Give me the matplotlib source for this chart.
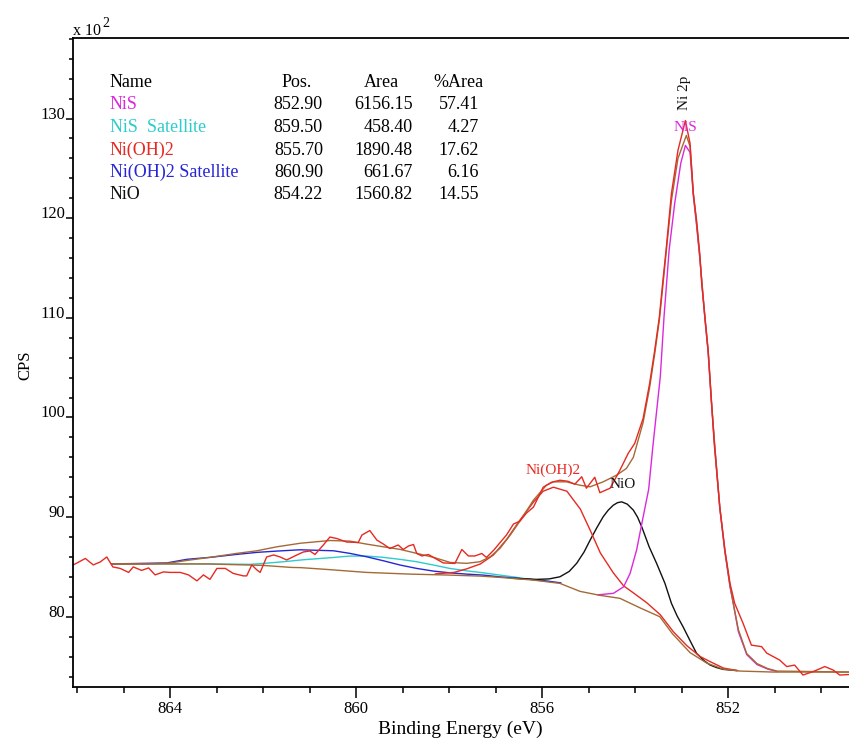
import matplotlib
matplotlib.use("Agg")
import matplotlib.pyplot as plt
from matplotlib.ticker import MultipleLocator, FormatStrFormatter

plt.rcParams['font.family'] = 'Liberation Serif'

#Raw data (binding energy in eV, CPS x 10^2)
raw_be = [866.09, 865.83, 865.66, 865.51, 865.37, 865.24, 865.08, 864.90, 864.80, 864.62,
          864.47, 864.33, 864.15, 864.01, 863.79, 863.61, 863.43, 863.29, 863.15, 863.00,
          862.82, 862.65, 862.43, 862.36, 862.25, 862.14, 862.07, 861.93, 861.78, 861.64,
          861.50, 861.28, 861.14, 861.00, 860.89, 860.71, 860.57, 860.42, 860.21, 859.96,
          859.88, 859.71, 859.56, 859.42, 859.28, 859.10, 858.99, 858.88, 858.77, 858.70,
          858.59, 858.45, 858.34, 858.13, 857.88, 857.73, 857.59, 857.45, 857.30, 857.20,
          857.05, 856.88, 856.77, 856.62, 856.48, 856.34, 856.19, 855.98, 855.80, 855.62,
          855.45, 855.30, 855.15, 855.05, 854.87, 854.76, 854.54, 854.33, 854.15, 854.01,
          853.83, 853.69, 853.58, 853.48, 853.41, 853.34, 853.22, 853.08, 852.92, 852.82,
          852.75, 852.68, 852.61, 852.57, 852.50, 852.43, 852.36, 852.30, 852.18, 852.07,
          851.96, 851.86, 851.68, 851.50, 851.28, 851.17, 850.89, 850.74, 850.57, 850.39,
          850.17, 849.92, 849.74, 849.60, 849.40]
raw_cps = [85.2, 85.85, 85.2, 85.5, 86.0, 85.0, 84.85, 84.45, 85.0, 84.65,
           84.9, 84.2, 84.5, 84.45, 84.45, 84.2, 83.6, 84.2, 83.75, 84.85,
           84.85, 84.35, 84.1, 84.1, 85.2, 84.7, 84.45, 86.0, 86.2, 86.0,
           85.7, 86.2, 86.5, 86.6, 86.25, 87.2, 88.0, 87.85, 87.5, 87.45,
           88.2, 88.65, 87.7, 87.3, 86.85, 87.2, 86.75, 87.1, 87.25, 86.35,
           86.1, 86.25, 85.95, 85.4, 85.35, 86.75, 86.1, 86.1, 86.35, 85.95,
           86.65, 87.6, 88.2, 89.3, 89.6, 90.4, 91.0, 93.0, 93.5, 93.7,
           93.6, 93.3, 94.05, 92.9, 94.0, 92.45, 92.9, 94.7, 96.4, 97.4,
           99.9, 103.4, 106.75, 110.1, 113.45, 116.6, 122.5, 126.8, 129.8, 127.5,
           122.5, 119.8, 116.4, 113.45, 110.1, 106.75, 101.7, 97.4, 91.0, 86.7,
           83.35, 81.35, 79.35, 77.15, 77.0, 76.35, 75.65, 75.0, 75.15, 74.15,
           74.5, 75.0, 74.65, 74.15, 74.2]

#Shirley background
bg_be = [865.26, 863.2, 862.0, 861.4, 861.2, 860.64, 860.21, 859.78, 858.85, 857.99,
         857.34, 856.91, 856.19, 855.62, 855.19, 854.76, 854.33, 853.90, 853.47, 853.20,
         853.00, 852.82, 852.46, 852.11, 851.75, 851.03, 849.40]
bg_cps = [85.3, 85.3, 85.15, 84.95, 84.93, 84.75, 84.6, 84.45, 84.28, 84.18,
          84.08, 83.95, 83.68, 83.35, 82.55, 82.15, 81.85, 80.9, 80.0, 78.3,
          77.3, 76.4, 75.35, 74.75, 74.55, 74.45, 74.45]

#Envelope
env_be = [865.26, 864.5, 864.0, 863.65, 863.15, 862.57, 862.14, 861.71, 861.2, 860.57,
          860.14, 859.78, 859.42, 859.06, 858.70, 858.34, 857.98, 857.63, 857.34, 857.12,
          856.91, 856.69, 856.48, 856.19, 855.91, 855.76, 855.48, 855.19, 854.97, 854.69,
          854.40, 854.19, 854.04, 853.83, 853.69, 853.58, 853.48, 853.41, 853.34, 853.22,
          853.08, 852.90, 852.82, 852.75, 852.68, 852.61, 852.50, 852.43, 852.36, 852.29,
          852.18, 852.07, 851.96, 851.86, 851.78, 851.60, 851.38, 851.15, 850.95, 849.40]
env_cps = [85.3, 85.3, 85.4, 85.65, 85.96, 86.36, 86.62, 87.02, 87.38, 87.65,
           87.59, 87.29, 87.02, 86.76, 86.36, 85.96, 85.45, 85.36, 85.52, 86.02,
           86.86, 88.19, 89.6, 91.7, 93.2, 93.54, 93.54, 93.2, 93.04, 93.54,
           94.21, 94.88, 96.0, 99.5, 103.0, 106.4, 109.8, 113.0, 116.3, 121.8,
           126.0, 128.3, 127.2, 122.5, 119.5, 116.1, 110.0, 106.6, 101.6, 97.3,
           91.0, 86.6, 83.1, 80.6, 78.7, 76.3, 75.3, 74.8, 74.55, 74.45]

#Components (drawn on top of the background)
nis_be = [854.80, 854.47, 854.25, 854.11, 853.97, 853.83, 853.71, 853.62, 853.46, 853.38,
          853.27, 853.15, 853.02, 852.92, 852.82, 852.75, 852.68, 852.61, 852.50, 852.43,
          852.36, 852.29, 852.18, 852.07, 851.96, 851.90, 851.78, 851.60, 851.38, 851.15, 850.95]
nis_cps = [82.2, 82.35, 83.0, 84.35, 86.7, 90.0, 92.8, 97.1, 104.1, 110.1,
           116.8, 121.5, 125.5, 127.3, 126.6, 122.3, 119.3, 116.0, 109.9, 106.5,
           101.5, 97.1, 90.9, 86.5, 83.0, 81.6, 78.5, 76.2, 75.2, 74.75, 74.5]

nis_sat_be = [865.26, 863.2, 862.29, 862.0, 861.57, 861.14, 860.57, 860.14, 859.78, 859.42,
              859.06, 858.70, 858.34, 857.99, 857.63, 857.27, 856.91, 856.55, 856.19, 855.8]
nis_sat_cps = [85.3, 85.3, 85.26, 85.35, 85.52, 85.72, 85.92, 86.09, 86.09, 85.96,
               85.76, 85.52, 85.19, 84.85, 84.61, 84.41, 84.18, 83.95, 83.7, 83.5]

nioh_be = [858.3, 857.9, 857.63, 857.33, 857.05, 856.76, 856.48, 856.19, 855.98, 855.76,
           855.47, 855.18, 854.97, 854.75, 854.47, 854.25, 854.04, 853.75, 853.46, 853.18,
           852.89, 852.60, 852.39, 852.10, 851.80]
nioh_cps = [84.3, 84.45, 84.8, 85.3, 86.2, 87.8, 89.7, 91.5, 92.6, 93.0,
            92.6, 90.8, 88.7, 86.4, 84.4, 83.1, 82.4, 81.4, 80.2, 78.5,
            77.1, 76.0, 75.5, 74.85, 74.6]

nioh_sat_be = [865.26, 864.08, 863.65, 863.15, 862.57, 862.14, 861.71, 861.21, 860.49, 860.14,
               859.78, 859.42, 859.06, 858.70, 858.34, 857.99, 857.63, 857.27, 856.91, 856.5,
               856.0, 855.6]
nioh_sat_cps = [85.3, 85.4, 85.76, 85.96, 86.26, 86.46, 86.59, 86.72, 86.62, 86.36,
                86.02, 85.62, 85.19, 84.85, 84.58, 84.41, 84.28, 84.18, 84.0, 83.85,
                83.65, 83.4]

nio_be = [856.6, 856.12, 855.85, 855.62, 855.42, 855.26, 855.10, 854.97, 854.83, 854.69,
          854.58, 854.47, 854.38, 854.29, 854.17, 854.04, 853.95, 853.86, 853.70, 853.54,
          853.36, 853.22, 853.10, 852.97, 852.82, 852.68, 852.52, 852.39, 852.25, 852.11, 851.82]
nio_cps = [83.85, 83.75, 83.8, 84.01, 84.55, 85.36, 86.5, 87.69, 88.9, 90.03,
           90.7, 91.2, 91.45, 91.53, 91.3, 90.7, 90.0, 89.03, 87.02, 85.36,
           83.35, 81.34, 80.1, 78.99, 77.6, 76.33, 75.6, 75.16, 74.9, 74.72, 74.6]

#Quantification table
names = ["NiS", "NiS  Satellite", "Ni(OH)2", "Ni(OH)2 Satellite", "NiO"]
pos = ["852.90", "859.50", "855.70", "860.90", "854.22"]
area = ["6156.15", "458.40", "1890.48", "661.67", "1560.82"]
pct_area = ["57.41", "4.27", "17.62", "6.16", "14.55"]

c_red = "#e62a22"
c_brown = "#a46a36"
c_mag = "#dc28dc"
c_cyan = "#2ccccc"
c_blue = "#2626d6"
c_black = "#111111"
name_colors = [c_mag, c_cyan, c_red, c_blue, c_black]

#%% Make plot
W, H = 849, 742
fig = plt.figure(figsize=(W/100, H/100), dpi=100)
ax = fig.add_axes([73.3/W, (H-687.3)/H, 1-73.3/W, (687.3-38.3)/H])

lw = 1.0
ax.plot(nis_sat_be, nis_sat_cps, color=c_cyan, lw=lw)
ax.plot(nioh_sat_be, nioh_sat_cps, color=c_blue, lw=lw)
ax.plot(nio_be, nio_cps, color=c_black, lw=lw)
ax.plot(nioh_be, nioh_cps, color=c_red, lw=lw)
ax.plot(nis_be, nis_cps, color=c_mag, lw=lw)
ax.plot(bg_be, bg_cps, color=c_brown, lw=lw)
ax.plot(env_be, env_cps, color=c_brown, lw=lw)
ax.plot(raw_be, raw_cps, color=c_red, lw=lw)

ax.set_xlim(866.09, 849.40)
ax.set_ylim(72.92, 138.05)

ax.xaxis.set_major_locator(MultipleLocator(4))
ax.xaxis.set_minor_locator(MultipleLocator(1))
ax.yaxis.set_major_locator(MultipleLocator(10))
ax.yaxis.set_minor_locator(MultipleLocator(2))
ax.xaxis.set_major_formatter(FormatStrFormatter('%d'))
ax.yaxis.set_major_formatter(FormatStrFormatter('%d'))

ax.spines['right'].set_visible(False)
for s in ['left', 'bottom', 'top']:
    ax.spines[s].set_linewidth(1.3)
ax.tick_params(axis='x', which='major', direction='out', length=7.7, width=1.1, pad=2, labelsize=12)
ax.tick_params(axis='x', which='minor', direction='out', length=4.3, width=1.1)
ax.tick_params(axis='y', which='major', direction='out', length=4.8, width=1.1, pad=1, labelsize=12)
ax.tick_params(axis='y', which='minor', direction='out', length=2.9, width=1.1)
ax.tick_params(top=False, right=False, which='both')
for lbl in ax.get_yticklabels():
    lbl.set_verticalalignment('baseline')

#Axis labels
fig.text(460/W, (H-729)/H, "Binding Energy (eV)", ha='center', va='center', fontsize=14)
fig.text(25/W, (H-365)/H, "CPS", ha='center', va='center', rotation=90, fontsize=12)
fig.text(73/W, (H-35)/H, "x 10", ha='left', va='baseline', fontsize=11.5)
fig.text(102/W, (H-27)/H, "2", ha='left', va='baseline', fontsize=10)

#Peak labels
ax.text(855.77, 94.7, "Ni(OH)2", color=c_red, ha='center', va='center', fontsize=11)
ax.text(854.28, 93.3, "NiO", color=c_black, ha='center', va='center', fontsize=11)
ax.text(852.93, 129.1, "NiS", color=c_mag, ha='center', va='center', fontsize=11)
ax.text(852.95, 132.6, "Ni 2p", color=c_black, ha='center', va='center', rotation=90, fontsize=11)

#Table
base = [109.3, 131.7, 155.0, 176.7, 199.3]
fs = 13
fig.text(110/W, (H-87)/H, "Name", ha='left', va='baseline', fontsize=fs)
fig.text(297/W, (H-87)/H, "Pos.", ha='center', va='baseline', fontsize=fs)
fig.text(381/W, (H-87)/H, "Area", ha='center', va='baseline', fontsize=fs)
fig.text(458/W, (H-87)/H, "%Area", ha='center', va='baseline', fontsize=fs)
for i in range(len(names)):
    yb = (H-base[i])/H
    fig.text(110/W, yb, names[i], color=name_colors[i], ha='left', va='baseline', fontsize=fs)
    fig.text(323/W, yb, pos[i], ha='right', va='baseline', fontsize=fs)
    fig.text(413/W, yb, area[i], ha='right', va='baseline', fontsize=fs)
    fig.text(479/W, yb, pct_area[i], ha='right', va='baseline', fontsize=fs)

fig.savefig("out.png", dpi=100)
